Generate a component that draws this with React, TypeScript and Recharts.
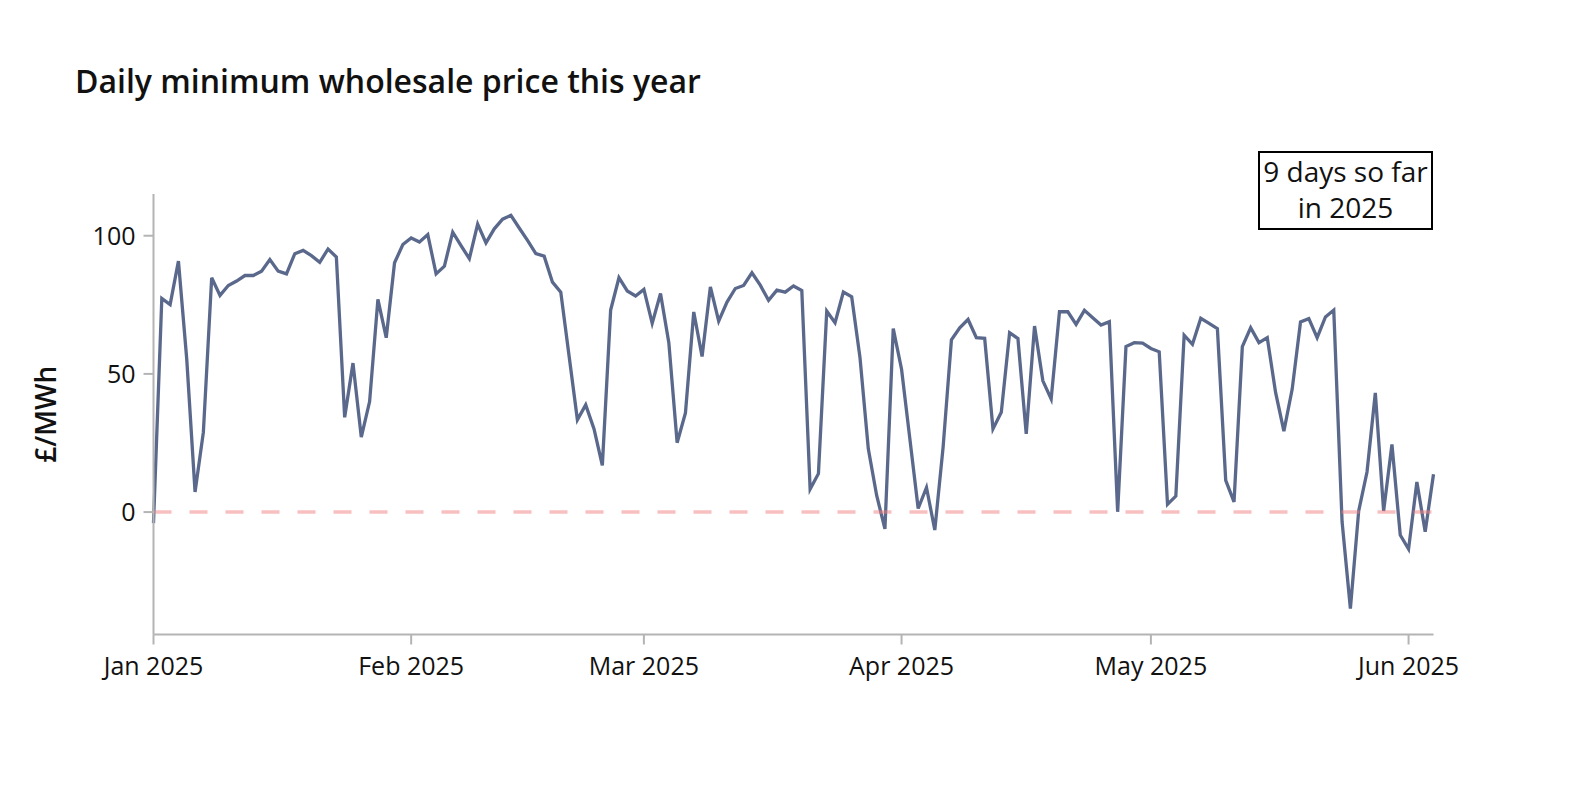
import React from 'react';
import { LineChart, Line, XAxis, YAxis, ReferenceLine } from 'recharts';

// day index 0 = 1 Jan 2025
const monthTicks = [0, 31, 59, 90, 120, 151];
const monthLabels = ['Jan 2025', 'Feb 2025', 'Mar 2025', 'Apr 2025', 'May 2025', 'Jun 2025'];
const priceTicks = [0, 50, 100];

// daily minimum wholesale price, £/MWh, 1 Jan - 4 Jun 2025
const minPrices = [
  -4, 77.3, 75.1, 90.8, 55.3, 7.3, 28.9, 84.8, 78.4, 82,
  83.6, 85.6, 85.6, 87.2, 91.4, 87.2, 86.2, 93.5, 94.7, 92.8,
  90.4, 95.2, 92.3, 34.3, 53.9, 27.1, 40, 77, 63.1, 90.2,
  96.8, 99.2, 97.7, 100.4, 86.2, 89, 101.3, 96.4, 91.7, 104.2,
  97.4, 102.5, 106, 107.4, 102.8, 98.3, 93.5, 92.6, 83.2, 79.6,
  56.5, 33.4, 38.8, 30.1, 16.9, 73.1, 84.8, 80, 78.2, 80.6,
  68.3, 79.1, 61.3, 25.1, 35.9, 72.4, 56.3, 81.5, 69.1, 76,
  80.9, 82, 86.6, 82.1, 76.6, 80.3, 79.6, 81.8, 80.2, 8.3,
  13.9, 72.7, 68.5, 79.6, 77.9, 55.9, 22.9, 6.1, -6.1, 66.4,
  51.7, 26.5, 1.3, 8.9, -6.5, 23.5, 62.3, 66.7, 69.7, 63.1,
  62.9, 30.1, 36.1, 64.9, 62.8, 28.3, 67.3, 47.5, 40.9, 72.5,
  72.5, 67.9, 73, 70.3, 67.7, 68.9, 0.1, 59.9, 61.3, 61.1,
  59.2, 58, 2.8, 5.8, 64, 60.7, 70.1, 68.3, 66.4, 11.5,
  3.7, 59.9, 66.7, 61.3, 63.1, 43.3, 29.3, 44.5, 68.8, 70,
  63.1, 70.6, 73.1, -3.5, -34.9, 0.4, 14.5, 43.1, 0.4, 24.5,
  -8.3, -13.4, 10.9, -7.1, 13.7,
];

const data = minPrices.map((price, day) => ({ day, price }));

const FONT = '"Open Sans", sans-serif';
const AXIS_GREY = '#b4b4b4';

export default function App() {
  return (
    <div style={{ position: 'relative', width: 1586, height: 786, background: '#fff', fontFamily: FONT }}>
      <style>{'body { margin: 0; }'}</style>

      <div
        style={{
          position: 'absolute', left: 75, top: 64,
          fontSize: 32, lineHeight: '33px', fontWeight: 600, color: '#111', whiteSpace: 'nowrap',
        }}
      >
        Daily minimum wholesale price this year
      </div>

      <LineChart
        width={1586}
        height={786}
        data={data}
        margin={{ top: 194, right: 152.5, bottom: 91.5, left: 0 }}
      >
        <XAxis
          dataKey="day"
          type="number"
          domain={[0, 154]}
          ticks={monthTicks}
          tickFormatter={(v) => monthLabels[monthTicks.indexOf(v)]}
          height={60}
          tickSize={10}
          tickMargin={13}
          stroke={AXIS_GREY}
          strokeWidth={2}
          tick={{ fontSize: 25, fill: '#111', fontFamily: FONT, fontWeight: 500 }}
          interval={0}
        />
        <YAxis
          type="number"
          domain={[-44.3, 115.1]}
          allowDataOverflow
          ticks={priceTicks}
          width={153.5}
          tickSize={10}
          tickMargin={8}
          stroke={AXIS_GREY}
          strokeWidth={2}
          tick={{ fontSize: 25, fill: '#111', fontFamily: FONT, fontWeight: 500 }}
          label={{
            value: '£/MWh', angle: -90, position: 'center', dx: -31,
            style: { fontSize: 28, fontWeight: 600, fill: '#111', fontFamily: FONT },
          }}
        />
        <Line
          type="linear"
          dataKey="price"
          stroke="#5a688c"
          strokeWidth={3.3}
          dot={false}
          activeDot={false}
          isAnimationActive={false}
        />
        <ReferenceLine
          y={0}
          stroke="#f08080"
          strokeOpacity={0.5}
          strokeWidth={3.5}
          strokeDasharray="18 18"
        />
      </LineChart>

      <div
        style={{
          position: 'absolute', left: 1258, top: 151, width: 171, height: 74,
          border: '2px solid #000', background: '#fff', textAlign: 'center',
          fontSize: 28, lineHeight: '35.6px', fontWeight: 500, color: '#111', paddingTop: 1,
          boxSizing: 'content-box', whiteSpace: 'nowrap',
        }}
      >
        9 days so far
        <br />
        in 2025
      </div>
    </div>
  );
}
